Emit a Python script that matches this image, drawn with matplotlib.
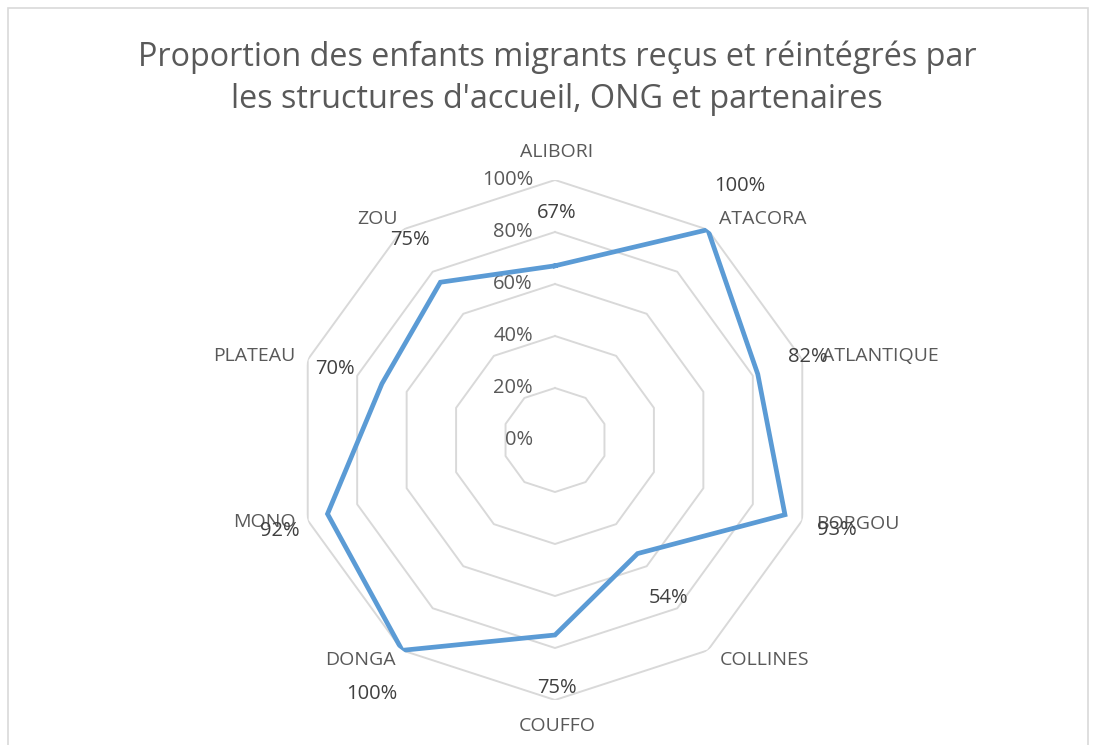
import numpy as np
import matplotlib
matplotlib.use("Agg")
import matplotlib.pyplot as plt
from matplotlib.patches import Rectangle

# ---- data ----
categories = ["ALIBORI", "ATACORA", "ATLANTIQUE", "BORGOU", "COLLINES",
              "COUFFO", "DONGA", "MONO", "PLATEAU", "ZOU"]
values = [0.67, 1.00, 0.82, 0.93, 0.54, 0.75, 1.00, 0.92, 0.70, 0.75]
value_labels = ["67%", "100%", "82%", "93%", "54%", "75%", "100%", "92%", "70%", "75%"]
rticks = [0.0, 0.2, 0.4, 0.6, 0.8, 1.0]
rtick_labels = ["0%", "20%", "40%", "60%", "80%", "100%"]
title = "Proportion des enfants migrants reçus et réintégrés par\nles structures d'accueil, ONG et partenaires"

# ---- layout / style (pixel offsets of labels) ----
cat_offsets = [(2, 28), (55, 11), (78, 4), (56, -4), (57, -10),
               (2, -26), (-42, -10), (-43, -2), (-53, 4), (-25, 11)]
val_offsets = [(2, 53), (32, 44), (50, 17), (52, -15), (31, -44),
               (2, -53), (-30, -44), (-48, -17), (-47, 15), (-30, 42)]

FONT = "Open Sans"
TXT = "#595959"
VAL = "#404040"
GRID = "#D9D9D9"
LINE = "#5B9BD5"

W, H = 1095, 745
fig = plt.figure(figsize=(W / 100, H / 100), dpi=100)
fig.patch.set_facecolor("white")
fig.patches.append(Rectangle((8 / W, -0.01), (1088 - 8) / W, (745 - 8) / H + 0.01,
                             transform=fig.transFigure, fill=False,
                             edgecolor=GRID, linewidth=1.2))

cx, cy, R = 555, 440, 260
ax = fig.add_axes([(cx - R) / W, (H - cy - R) / H, 2 * R / W, 2 * R / H],
                  projection="polar")
ax.set_theta_zero_location("N")
ax.set_theta_direction(-1)
ax.set_ylim(0, 1)
ax.grid(False)
ax.spines["polar"].set_visible(False)
ax.set_xticks([])
ax.set_yticks([])
ax.patch.set_alpha(0)

n = len(categories)
theta = np.arange(n) * 2 * np.pi / n
theta_c = np.append(theta, theta[0])

# polygon gridlines
for r in rticks[1:]:
    ax.plot(theta_c, [r] * (n + 1), color=GRID, lw=1.4, zorder=1)

# radial tick labels
for r, lab in zip(rticks, rtick_labels):
    ax.annotate(lab, xy=(0, r), xytext=(-22, 0), textcoords="offset pixels",
                ha="right", va="center", fontsize=14.5, color=TXT, family=FONT)

# data line
vals_c = values + [values[0]]
ax.plot(theta_c, vals_c, color=LINE, lw=3.4, solid_joinstyle="miter", zorder=3)

# category labels
for t, cat, off in zip(theta, categories, cat_offsets):
    ax.annotate(cat, xy=(t, 1.0), xytext=off, textcoords="offset pixels",
                ha="center", va="center", fontsize=14, color=TXT, family=FONT,
                annotation_clip=False)

# value labels
for t, v, lab, off in zip(theta, values, value_labels, val_offsets):
    ax.annotate(lab, xy=(t, v), xytext=off, textcoords="offset pixels",
                ha="center", va="center", fontsize=14.5, color=VAL, family=FONT,
                annotation_clip=False, zorder=4)

fig.text(557 / W, 1 - 78 / H, title, ha="center", va="center",
         fontsize=23.3, color=TXT, family=FONT, linespacing=1.38)

fig.savefig("out.png", dpi=100)
